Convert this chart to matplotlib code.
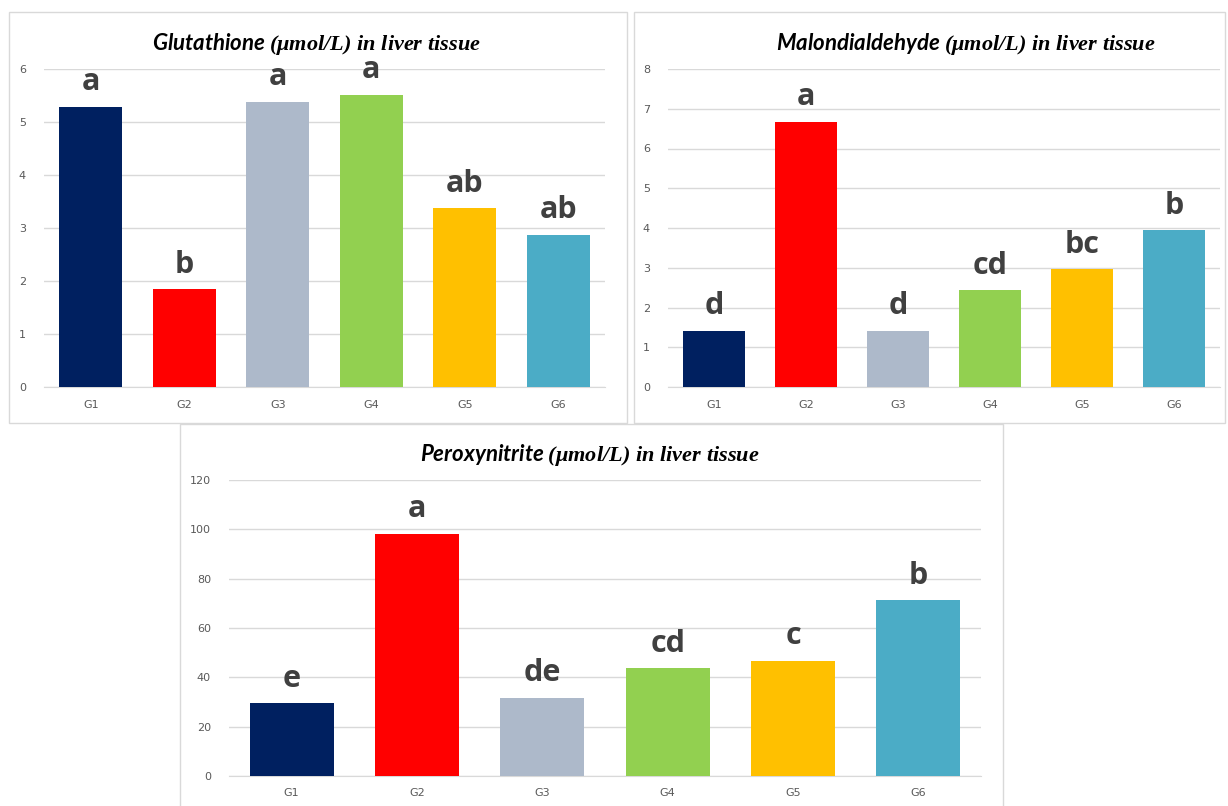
import matplotlib
matplotlib.use("Agg")
import matplotlib.pyplot as plt
from matplotlib.patches import Rectangle

# data
groups = ["G1", "G2", "G3", "G4", "G5", "G6"]
bar_colors = ["#002060", "#FF0000", "#ADB9CA", "#92D050", "#FFC000", "#4BACC6"]

gsh_vals = [5.29, 1.84, 5.38, 5.51, 3.37, 2.87]
gsh_letters = ["a", "b", "a", "a", "ab", "ab"]

mda_vals = [1.41, 6.67, 1.41, 2.43, 2.96, 3.94]
mda_letters = ["d", "a", "d", "cd", "bc", "b"]

onoo_vals = [29.5, 98.2, 31.8, 43.6, 46.8, 71.2]
onoo_letters = ["e", "a", "de", "cd", "c", "b"]

W, H = 1228, 806

plt.rcParams['mathtext.fontset'] = 'custom'
plt.rcParams['mathtext.it'] = 'Liberation Serif:italic:bold'
plt.rcParams['mathtext.rm'] = 'Liberation Serif:italic:bold'
plt.rcParams['mathtext.bf'] = 'Liberation Serif:italic:bold'

fig = plt.figure(figsize=(W / 100, H / 100), dpi=100)
fig.patch.set_facecolor("white")


def px_box(x0, y0, x1, y1):
    # pixel box (top-left origin) -> figure fraction rect
    return [x0 / W, 1 - y1 / H, (x1 - x0) / W, (y1 - y0) / H]


def panel(rect, vals, letters, ymax, ystep, name, tx):
    ax = fig.add_axes(rect)
    x = range(len(groups))
    ax.bar(x, vals, width=0.67, color=bar_colors, zorder=3)
    for i, (v, lab) in enumerate(zip(vals, letters)):
        ax.annotate(lab, (i, v), xytext=(0, 7), textcoords="offset points",
                    ha="center", va="bottom", fontsize=22, fontweight="bold",
                    family="Open Sans", color="#404040")
    ax.set_xlim(-0.5, len(groups) - 0.5)
    ax.set_ylim(0, ymax)
    ax.set_yticks(range(0, ymax + 1, ystep))
    ax.set_xticks(list(x))
    ax.set_xticklabels(groups)
    ax.tick_params(length=0, labelsize=8, labelcolor="#595959")
    ax.tick_params(axis="y", pad=13)
    ax.tick_params(axis="x", pad=9)
    ax.grid(axis="y", color="#D9D9D9", linewidth=1, zorder=0)
    for s in ["top", "right", "left"]:
        ax.spines[s].set_visible(False)
    ax.spines["bottom"].set_color("#D9D9D9")
    ax.set_facecolor("none")
    title = name + r" $(\mu mol/L)\ in\ liver\ tissue$"
    ax.set_title(title, fontsize=16, fontweight="bold", fontstyle="italic",
                 family="Lato", color="black", pad=14, x=tx)
    return ax


# panel frames
for (x0, y0, x1, y1) in [(9, 12, 627, 423), (634, 12, 1225, 423), (180, 424, 1003, 812)]:
    fig.patches.append(Rectangle((x0 / W, 1 - y1 / H), (x1 - x0) / W, (y1 - y0) / H,
                                 transform=fig.transFigure, fill=False,
                                 edgecolor="#D9D9D9", linewidth=1))

panel(px_box(44, 69, 605, 387), gsh_vals, gsh_letters, 6, 1, "Glutathione", 0.485)
panel(px_box(668, 69, 1220, 387), mda_vals, mda_letters, 8, 1, "Malondialdehyde", 0.54)
panel(px_box(229, 480, 981, 776), onoo_vals, onoo_letters, 120, 20, "Peroxynitrite", 0.48)

fig.savefig("out.png", dpi=100)
